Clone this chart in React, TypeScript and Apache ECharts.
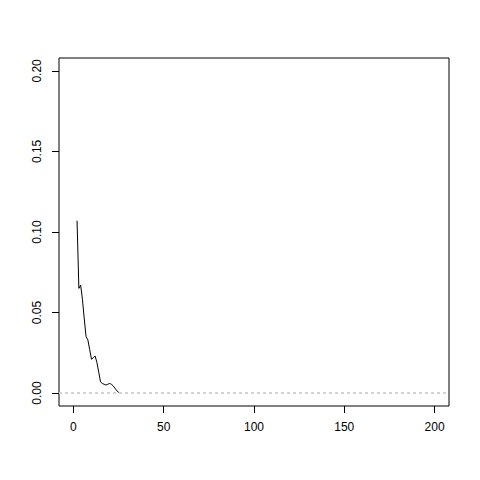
import React, { useEffect, useRef } from "react";
import * as echarts from "echarts";

const xValues = [2, 3, 4, 5, 6, 7, 8, 9, 10, 11, 12, 13, 14, 15, 16, 17, 18, 19, 20, 21, 22, 23, 24, 25, 26];
const yValues = [0.107, 0.065, 0.067, 0.058, 0.046, 0.035, 0.033, 0.027, 0.021, 0.022, 0.023, 0.019, 0.013, 0.007, 0.006, 0.0055, 0.005, 0.0055, 0.006, 0.0055, 0.0045, 0.003, 0.0015, 0.0005, 0.0];
const xTicks = [0, 50, 100, 150, 200];
const yTicks = [0, 0.05, 0.1, 0.15, 0.2];
const refLine = 0;

export default function App() {
  const ref = useRef<HTMLDivElement>(null);
  useEffect(() => {
    if (!ref.current) return;
    const chart = echarts.init(ref.current, null, { renderer: "svg" });
    const font = "Liberation Sans, Arial, Helvetica, sans-serif";
    chart.setOption({
      animation: false,
      backgroundColor: "#ffffff",
      grid: {
        left: 59,
        right: 31,
        top: 58,
        bottom: 74,
        show: true,
        borderColor: "#000000",
        borderWidth: 1,
        backgroundColor: "transparent",
      },
      xAxis: {
        type: "value",
        min: -8,
        max: 208,
        splitLine: { show: false },
        axisLine: { show: false, onZero: false },
        axisTick: {
          show: true,
          inside: false,
          length: 7,
          customValues: xTicks,
          lineStyle: { color: "#000000", width: 1 },
        },
        axisLabel: {
          customValues: xTicks,
          margin: 15,
          fontSize: 12,
          fontFamily: font,
          color: "#000000",
          formatter: (v: number) => String(v),
        },
      },
      yAxis: {
        type: "value",
        min: -0.008,
        max: 0.208,
        splitLine: { show: false },
        axisLine: { show: false, onZero: false },
        axisTick: {
          show: true,
          inside: false,
          length: 7,
          customValues: yTicks,
          lineStyle: { color: "#000000", width: 1 },
        },
        axisLabel: {
          customValues: yTicks,
          rotate: 90,
          margin: 16,
          fontSize: 12,
          fontFamily: font,
          color: "#000000",
          formatter: (v: number) => v.toFixed(2),
        },
      },
      series: [
        {
          type: "line",
          data: xValues.map((x, i) => [x, yValues[i]]),
          showSymbol: false,
          symbol: "none",
          lineStyle: { color: "#000000", width: 1 },
          markLine: {
            silent: true,
            symbol: "none",
            label: { show: false },
            lineStyle: { color: "#d3d3d3", type: [3, 3], width: 2 },
            data: [{ yAxis: refLine }],
          },
        },
      ],
    });
    return () => chart.dispose();
  }, []);
  return (
    <div
      ref={ref}
      style={{ position: "fixed", left: 0, top: 0, width: 480, height: 480, background: "#fff" }}
    />
  );
}
